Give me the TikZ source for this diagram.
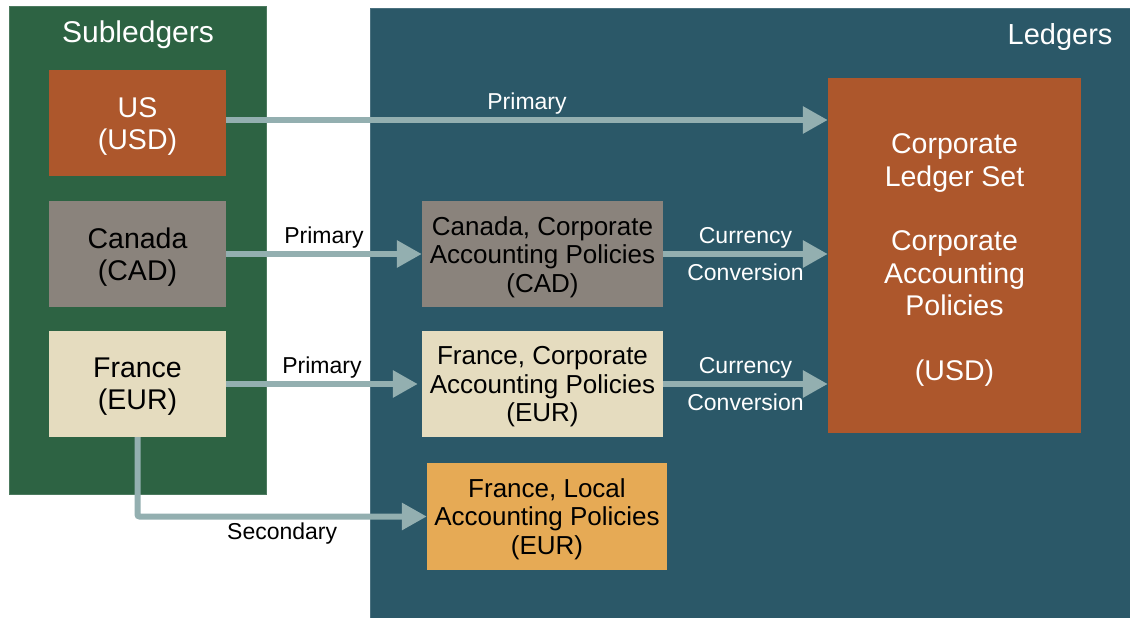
\documentclass[tikz,border=0pt]{standalone}
\usepackage{fontspec}
\setmainfont{Liberation Sans}
\usetikzlibrary{arrows.meta}
\usetikzlibrary{calc}
\definecolor{subgreen}{RGB}{45,99,67}
\definecolor{ledblue}{RGB}{43,88,104}
\definecolor{rust}{RGB}{173,87,44}
\definecolor{stone}{RGB}{138,131,124}
\definecolor{sand}{RGB}{229,220,191}
\definecolor{amber}{RGB}{230,170,85}
\definecolor{flow}{RGB}{147,175,176}
\tikzset{box/.style={inner sep=0pt,minimum width=177pt,minimum height=106pt}}
\tikzset{big/.style={inner sep=0pt,align=center,font=\fontsize{28.5}{32}\selectfont}}
\tikzset{sub/.style={inner sep=0pt,align=center,font=\fontsize{26}{28.5}\selectfont}}
\tikzset{lab/.style={font=\fontsize{23}{23}\selectfont,inner sep=3pt}}
\tikzset{flw/.style={draw=flow,line width=6pt,-{Triangle[length=25pt,width=26pt]}}}

\begin{document}
\begin{tikzpicture}[x=1pt,y=-1pt]
        \useasboundingbox (0,0) rectangle (1130,618);
        \fill[white] (0,0) rectangle (1130,618);
        % the two groups
        \filldraw[subgreen!85!white,fill=subgreen,line width=0.6pt](9,6) rectangle (266,494);
        \filldraw[ledblue!85!white,fill=ledblue,line width=0.6pt](370,8) rectangle (1130,618);
        \node[white,font=\fontsize{30}{30}\selectfont] (subt) at (138,35) {Subledgers};
        \node[white,font=\fontsize{29}{29}\selectfont,anchor=east] (ledt) at (1116,37) {Ledgers};
        % subledgers
        \node[box,fill=rust] (us) at (137.5,123) {};
        \node[big,white] (ust) at (137.5,126) {US\\(USD)};
        \node[box,fill=stone] (ca) at (137.5,254) {};
        \node[big] (cat) at (137.5,257) {Canada\\(CAD)};
        \node[box,fill=sand] (fr) at (137.5,384) {};
        \node[big] (frt) at (137.5,387) {France\\(EUR)};
        % ledgers
        \node[box,fill=stone,minimum width=241pt] (cacorp) at (542.5,254) {};
        \node[sub] (cacorpt) at (542.5,257) {Canada, Corporate\\Accounting Policies\\(CAD)};
        \node[box,fill=sand,minimum width=241pt] (frcorp) at (542.5,384) {};
        \node[sub] (frcorpt) at (542.5,387) {France, Corporate\\Accounting Policies\\(EUR)};
        \node[box,fill=amber,minimum width=240pt,minimum height=107pt] (frloc) at (547,516.5) {};
        \node[sub] (frloct) at (547,519) {France, Local\\Accounting Policies\\(EUR)};
        \node[box,fill=rust,minimum width=253pt,minimum height=355pt] (corp) at (954.5,255.5) {};
        \node[big,white,font=\fontsize{28.5}{32.3}\selectfont] (corpt) at (954.5,260)
          {Corporate\\Ledger Set\\~\\Corporate\\Accounting\\Policies\\~\\(USD)};
        % flows
        \draw[flw] ($(us.east)+(0,-3)$) -- ($(us.east -| corp.west)+(0,-3)$)
          node[lab,midway,above,white] {Primary};
        \draw[flw] (ca.east) -- (cacorp.west)
          node[lab,midway,above] {Primary};
        \draw[flw] (fr.east) -- ($(frcorp.west)+(-4,0)$)
          node[lab,midway,above] {Primary};
        \draw[flw] (cacorp.east) -- (cacorp.east -| corp.west)
          node[lab,midway,above,white] {Currency}
          node[lab,midway,below=4pt,white] {Conversion};
        \draw[flw] (frcorp.east) -- (frcorp.east -| corp.west)
          node[lab,midway,above,white] {Currency}
          node[lab,midway,below=4pt,white] {Conversion};
        \draw[flw,rounded corners=2pt] (fr.south) |- (frloc.west)
          node[lab,pos=0.75,below] {Secondary};
      \end{tikzpicture}
\end{document}
